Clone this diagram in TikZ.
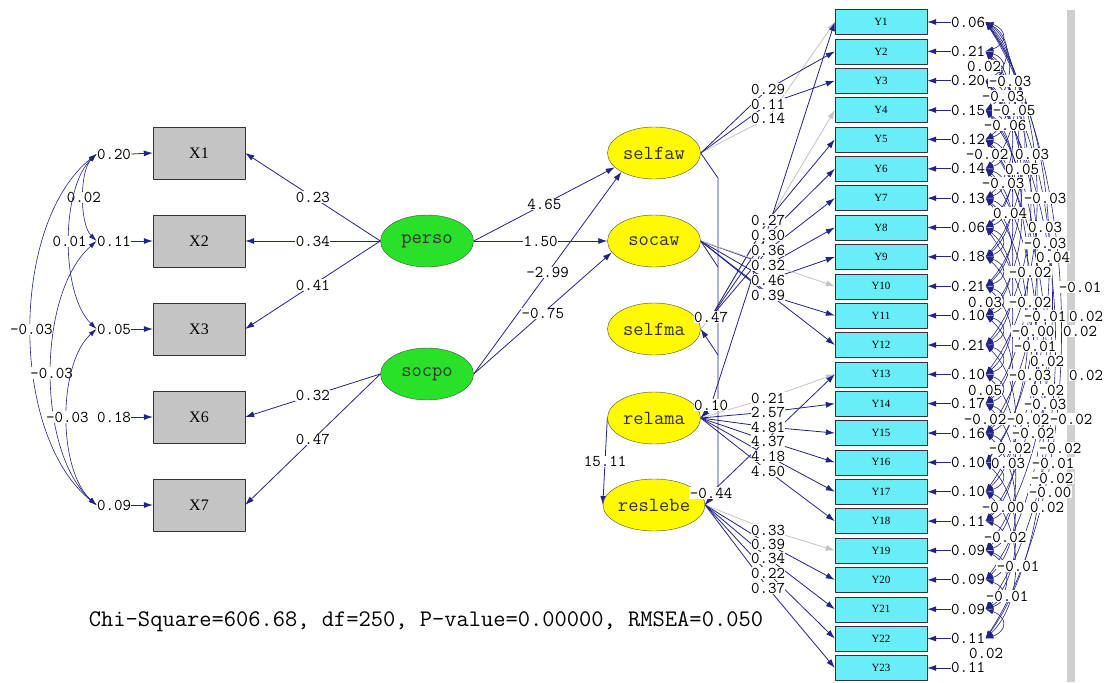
\documentclass[tikz,border=0pt]{standalone}
\usepackage{fontspec}
\setmainfont{Liberation Serif}
\usetikzlibrary{arrows.meta,shapes.geometric,backgrounds}
\definecolor{lisblue}{RGB}{35,35,135}
\definecolor{lisgray}{RGB}{195,195,195}
\definecolor{colX}{RGB}{196,196,196}
\definecolor{colY}{RGB}{105,238,248}
\definecolor{colG}{RGB}{40,225,40}
\definecolor{colYe}{RGB}{255,250,0}

\begin{document}
\begin{tikzpicture}[x=1pt, y=-1pt, line join=round, line cap=round,
  >={Latex[length=9pt,width=6pt]},
  xvar/.style={draw=black!80, fill=colX, minimum width=92pt, minimum height=52pt, font=\fontsize{16}{18}\selectfont},
  yvar/.style={draw=black!80, fill=colY, minimum width=92pt, minimum height=25pt, inner sep=0pt, font=\fontsize{11}{11}\selectfont},
  exo/.style={ellipse, draw=black!70, fill=colG, minimum width=93pt, minimum height=52pt, inner sep=0pt, text=black!80, font=\ttfamily\fontsize{20}{20}\selectfont},
  endo/.style={exo, fill=colYe},
  num/.style={font=\ttfamily\fontsize{16.5}{16.5}\selectfont, inner sep=0.3pt, fill=white},
  lnk/.style={draw=lisblue, line width=0.8pt},
  fx/.style={draw=lisgray, line width=0.8pt},
  cov/.style={draw=lisblue, line width=0.6pt, {Latex[length=8pt,width=5pt]}-{Latex[length=8pt,width=5pt]}}]
\useasboundingbox (0,0) rectangle (1107,682);

% bien quan sat X
\node[xvar] (X1) at (199,153) {X1};
\node[xvar] (X2) at (199,241) {X2};
\node[xvar] (X3) at (199,329) {X3};
\node[xvar] (X6) at (199,417) {X6};
\node[xvar] (X7) at (199,505) {X7};
\node[num] (eX1) at (114,154) {0.20};
\node[num] (eX2) at (114,241) {0.11};
\node[num] (eX3) at (114,329) {0.05};
\node[num] (eX6) at (114,417) {0.18};
\node[num] (eX7) at (114,505) {0.09};

% bien tiem an
\node[exo] (perso) at (427,241) {perso};
\node[exo] (socpo) at (427,374) {socpo};
\node[endo] (selfaw) at (654,153) {selfaw};
\node[endo] (socaw) at (654,241) {socaw};
\node[endo] (selfma) at (654,329) {selfma};
\node[endo] (relama) at (654,418) {relama};
\node[endo] (reslebe) at (654,505) {reslebe};

% bien quan sat Y
\foreach \i/\e in {1/0.06, 2/0.21, 3/0.20, 4/0.15, 5/0.12, 6/0.14, 7/0.13, 8/0.06,
  9/0.18, 10/0.21, 11/0.10, 12/0.21, 13/0.10, 14/0.17, 15/0.16, 16/0.10, 17/0.10,
  18/0.11, 19/0.09, 20/0.09, 21/0.09, 22/0.11, 23/0.11}{
  \node[yvar] (Y\i) at (881,{22+(\i-1)*29.36}) {Y\i};
  \node[num] (eY\i) at (968,{22+(\i-1)*29.36}) {\e};
}

% nhan he so tai
\node[num] (l029) at (768,89) {0.29};
\node[num] (l011) at (768,104) {0.11};
\node[num] (l014) at (768,118) {0.14};
\node[num] (l027) at (768,220) {0.27};
\node[num] (l030) at (768,235) {0.30};
\node[num] (l036) at (768,250) {0.36};
\node[num] (l032) at (768,265) {0.32};
\node[num] (l046) at (768,280) {0.46};
\node[num] (l039) at (768,295) {0.39};
\node[num] (l047) at (711,317) {0.47};
\node[num] (l010) at (711,405) {0.10};
\node[num] (l021) at (768,398) {0.21};
\node[num] (l257) at (768,412) {2.57};
\node[num] (l481) at (768,427) {4.81};
\node[num] (l437) at (768,441) {4.37};
\node[num] (l418) at (768,456) {4.18};
\node[num] (l450) at (768,471) {4.50};
\node[num] (lm044) at (711,493) {-0.44};
\node[num] (l033) at (768,530) {0.33};
\node[num] (l039b) at (768,544) {0.39};
\node[num] (l034) at (768,558) {0.34};
\node[num] (l022) at (768,573) {0.22};
\node[num] (l037) at (768,588) {0.37};

% hiep phuong sai sai so Y
\foreach \n/\px/\py/\txt in {1/984/66/0.02, 2/1010/81/-0.03, 3/1003/96/-0.03, 4/1014/110/-0.05,
  5/1005/125/-0.06, 6/987/154/-0.02, 7/1032/154/0.03, 8/1022/169/0.05, 9/1003/183/-0.03,
  10/1045/198/-0.03, 11/1010/213/0.04, 12/1045/227/0.03, 13/1045/243/-0.03, 14/1053/257/0.04,
  15/1030/272/-0.02, 16/1080/287/-0.01, 17/985/302/0.03, 18/1030/302/-0.02, 19/1045/316/-0.01,
  20/1086/316/0.02, 21/1033/331/-0.00, 22/1080/331/0.02, 23/1035/346/-0.01, 24/1047/361/0.02,
  25/1030/375/-0.03, 26/1086/375/0.02, 27/985/390/0.05, 28/1047/390/0.02, 29/1045/404/-0.03,
  30/985/419/-0.02, 31/1028/419/-0.02, 32/1071/419/-0.02, 33/1033/433/-0.02, 34/1010/448/-0.02,
  35/1060/448/-0.02, 36/1008/463/0.03, 37/1053/463/-0.01, 38/1052/478/-0.02, 39/1050/492/-0.00,
  40/1003/507/-0.00, 41/1047/507/0.02, 42/1005/537/-0.02, 43/1018/566/-0.01, 44/1007/596/-0.01,
  45/986/653/0.02}{
  \node[num] (c\n) at (\px,\py) {\txt};
}

\node[font=\ttfamily\fontsize{23.8}{24}\selectfont] (fit) at (426,622) {Chi-Square=606.68, df=250, P-value=0.00000, RMSEA=0.050};

\begin{pgfonlayer}{background}
  \fill[lisgray!80] (1067,10) rectangle (1075,682);

  % sai so X
  \foreach \k in {1,2,3,6,7} \draw[lnk,->] (eX\k.east) -- (X\k.west);
  \draw[cov] (eX1.west) .. controls +(-17,17) and +(-17,-17) .. node[num] (k1) {0.02} (eX2.west);
  \draw[cov] (eX1.west) .. controls +(-36,35) and +(-36,-35) .. node[num] (k2) {0.01} (eX3.west);
  \draw[cov] (eX1.west) .. controls +(-87,70) and +(-87,-70) .. node[num] (k3) {-0.03} (eX7.west);
  \draw[cov] (eX2.west) .. controls +(-60,53) and +(-60,-53) .. node[num] (k4) {-0.03} (eX7.west);
  \draw[cov] (eX3.west) .. controls +(-39,35) and +(-39,-35) .. node[num] (k5) {-0.03} (eX7.west);

  % he so tai X
  \draw[lnk,->] (perso.west) -- node[num] (g1) {0.23} (X1.east);
  \draw[lnk,->] (perso.west) -- node[num] (g2) {0.34} (X2.east);
  \draw[lnk,->] (perso.west) -- node[num] (g3) {0.41} (X3.east);
  \draw[lnk,->] (socpo.west) -- node[num] (g4) {0.32} (X6.east);
  \draw[lnk,->] (socpo.west) -- node[num] (g5) {0.47} (X7.east);

  % duong dan cau truc
  \draw[lnk,->] (perso.east) -- node[num] (s1) {4.65} (selfaw.200);
  \draw[lnk,->] (perso.east) -- node[num] (s2) {1.50} (socaw.west);
  \draw[lnk,->] (socpo.east) -- node[num] (s3) {-2.99} (selfaw.210);
  \draw[lnk,->] (socpo.east) -- node[num] (s4) {-0.75} (socaw.195);
  \draw[lnk,->] (relama.west) -- node[num] (s5) {15.11} (reslebe.west);

  \coordinate (b1) at (718,178);
  \coordinate (b2) at (718,490);
  \coordinate (b3) at (718,267);
  \coordinate (b4) at (718,355);
  \coordinate (b5) at (718,400);
  \draw[lnk] (selfaw.east) -- (b1) -- (b2);
  \draw[lnk] (socaw.east) -- (b3);
  \draw[lnk,->] (b4) -- (selfma.east);
  \draw[lnk,->] (b5) -- (relama.east);
  \draw[lnk,->] (b2) -- (reslebe.east);

  % selfaw
  \draw[fx,->] (selfaw.east) -- (l014.center) -- (Y1.west);
  \draw[lnk,->] (selfaw.east) -- (l029.center) -- (Y2.west);
  \draw[lnk,->] (selfaw.east) -- (l011.center) -- (Y3.west);
  % selfma
  \draw[fx,->] (selfma.east) -- (l047.center) -- (Y4.west);
  \draw[lnk,->] (l047.center) -- (l027.center) -- (Y5.west);
  \draw[lnk,->] (l047.center) -- (l030.center) -- (Y6.west);
  \draw[lnk,->] (l047.center) -- (l036.center) -- (Y7.west);
  % socaw
  \draw[lnk,->] (socaw.east) -- (l032.center) -- (Y8.west);
  \draw[lnk,->] (socaw.east) -- (l046.center) -- (Y9.west);
  \draw[fx,->] (socaw.east) -- (Y10.west);
  \draw[lnk,->] (socaw.east) -- (l039.center) -- (Y11.west);
  \draw[lnk,->] (socaw.east) -- (Y12.west);
  % relama
  \draw[lnk,->] (relama.east) -- (l010.center) -- (Y1.west);
  \draw[fx,->] (relama.east) -- (l021.center) -- (Y13.west);
  \draw[lnk,->] (relama.east) -- (l257.center) -- (Y14.west);
  \draw[lnk,->] (relama.east) -- (l481.center) -- (Y15.west);
  \draw[lnk,->] (relama.east) -- (l437.center) -- (Y16.west);
  \draw[lnk,->] (relama.east) -- (l418.center) -- (Y17.west);
  \draw[lnk,->] (relama.east) -- (l450.center) -- (Y18.west);
  % reslebe
  \draw[lnk,->] (reslebe.east) -- (lm044.center) -- (Y13.west);
  \draw[fx,->] (reslebe.east) -- (l033.center) -- (Y19.west);
  \draw[lnk,->] (reslebe.east) -- (l039b.center) -- (Y20.west);
  \draw[lnk,->] (reslebe.east) -- (l034.center) -- (Y21.west);
  \draw[lnk,->] (reslebe.east) -- (l022.center) -- (Y22.west);
  \draw[lnk,->] (reslebe.east) -- (l037.center) -- (Y23.west);

  % sai so Y
  \foreach \i in {1,...,23} \draw[lnk,->] (eY\i.west) -- (Y\i.east);
  \foreach \a/\b in {1/2,1/3,1/4,1/6,1/9,1/13,1/17,1/22,2/3,2/5,2/8,2/12,2/19,
    3/4,3/7,3/10,3/15,3/21,4/5,4/8,4/11,4/16,5/6,5/9,5/14,5/20,6/7,6/10,6/18,
    7/8,7/11,7/16,8/9,8/12,8/22,9/10,9/13,10/11,10/14,11/12,11/15,12/13,12/17,
    13/14,13/18,14/15,14/19,15/16,15/20,16/17,16/21,17/18,17/22,18/19,19/20,
    19/21,20/21,21/22}{
    \pgfmathsetmacro{\sp}{(\b-\a)*29.36}
    \pgfmathsetmacro{\w}{min(18+0.14*\sp,100)}
    \pgfmathsetmacro{\s}{0.25*\sp}
    \draw[cov] (eY\a.east) .. controls +(\w,\s) and +(\w,-\s) .. (eY\b.east);
  }
\end{pgfonlayer}
\end{tikzpicture}
\end{document}
